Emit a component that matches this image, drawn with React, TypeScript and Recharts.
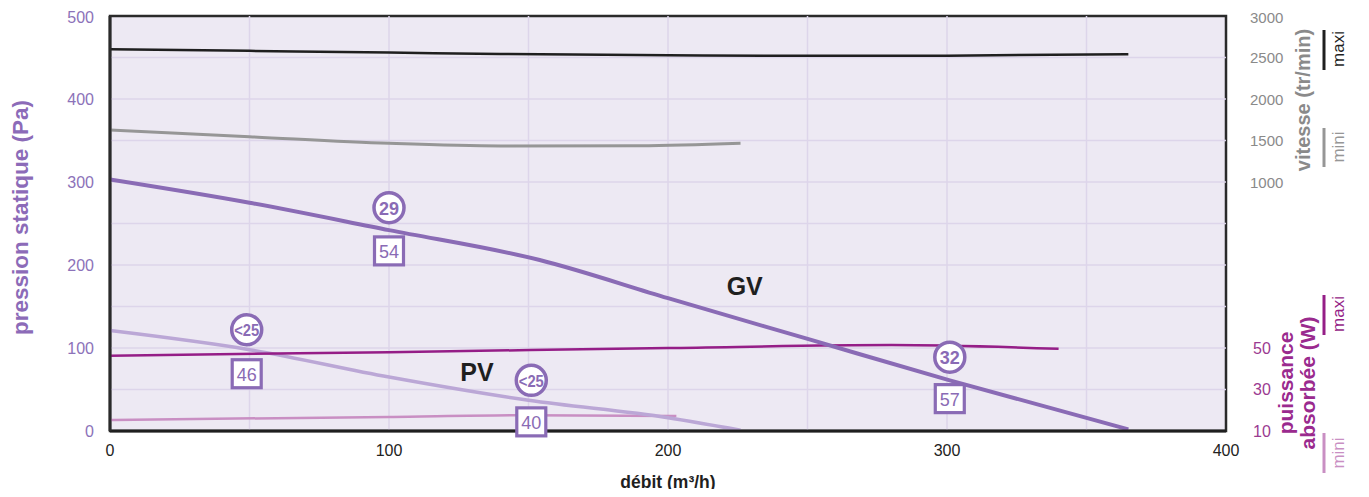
import React from 'react';
import { ComposedChart, Line, XAxis, YAxis, ReferenceLine, ReferenceArea, ReferenceDot } from 'recharts';

// Axis ticks
const flowTicks = [0, 100, 200, 300, 400];
const pressureTicks = [0, 100, 200, 300, 400, 500];
const speedTicks = [1000, 1500, 2000, 2500, 3000];
const powerTicks = [10, 30, 50];
const gridFlows = [50, 100, 150, 200, 250, 300, 350];
const gridPressures = [50, 100, 150, 200, 250, 300, 350, 400, 450];

// GV pressure curve (Pa)
const gvFlow = [0, 50, 100, 154, 200, 251, 301, 365];
const gvPressure = [303, 275, 242, 206, 160, 110, 61, 2];

// PV pressure curve (Pa)
const pvFlow = [0, 50, 100, 150, 200, 226];
const pvPressure = [121, 98, 65, 37, 16, 1];

// Speed maxi / mini (tr/min)
const speedMaxFlow = [0, 50, 100, 140, 200, 250, 300, 365];
const speedMax = [2600, 2580, 2560, 2542, 2528, 2520, 2522, 2540];
const speedMinFlow = [0, 50, 100, 140, 190, 226];
const speedMin = [1627, 1546, 1466, 1434, 1437, 1467];

// Power maxi / mini (W)
const powerMaxFlow = [0, 100, 200, 280, 340];
const powerMax = [46.3, 48, 50, 51.4, 49.6];
const powerMinFlow = [0, 100, 150, 203];
const powerMin = [15.3, 16.8, 17.6, 17.2];

// Annotations
const circleFlows = [100, 49, 151, 301];
const circlePressures = [269, 122, 61, 89];
const circleTexts = ['29', '<25', '<25', '32'];
const squareFlows = [100, 49, 151, 301];
const squarePressures = [217, 69, 11, 39];
const squareTexts = ['54', '46', '40', '57'];
const curveLabels = ['GV', 'PV'];
const curveLabelFlows = [227.5, 131.5];
const curveLabelPressures = [175, 71];

const FONT = '"Liberation Sans", Arial, Helvetica, sans-serif';
const PURPLE = '#8a6bb5';
const PV_COLOR = '#bba7d6';
const MAGENTA = '#951e87';
const PINK = '#c98fc3';
const GREY = '#969696';
const BLACK = '#1f1f1f';

const toData = (xs: number[], ys: number[]) => xs.map((x, i) => ({ flow: x, v: ys[i] }));

const gvData = toData(gvFlow, gvPressure);
const pvData = toData(pvFlow, pvPressure);
const speedMaxData = toData(speedMaxFlow, speedMax);
const speedMinData = toData(speedMinFlow, speedMin);
const powerMaxData = toData(powerMaxFlow, powerMax);
const powerMinData = toData(powerMinFlow, powerMin);

const CircleMark = (text: string) => (props: any) => {
  const { cx, cy } = props;
  const small = text.length > 2;
  return (
    <g>
      <circle cx={cx} cy={cy} r={15} fill="#ffffff" stroke={PURPLE} strokeWidth={3.5} />
      <text
        x={cx}
        y={cy + 1}
        textAnchor="middle"
        dominantBaseline="central"
        fill={PURPLE}
        fontFamily={FONT}
        fontWeight="bold"
        fontSize={small ? 17 : 18}
        {...(small ? { textLength: 25, lengthAdjust: 'spacingAndGlyphs' } : {})}
      >
        {text}
      </text>
    </g>
  );
};

const SquareMark = (text: string) => (props: any) => {
  const { cx, cy } = props;
  return (
    <g>
      <rect x={cx - 14.5} y={cy - 14} width={29} height={28} fill="#ffffff" stroke={PURPLE} strokeWidth={3.2} />
      <text x={cx} y={cy + 1} textAnchor="middle" dominantBaseline="central" fill={PURPLE} fontFamily={FONT} fontSize={18}>
        {text}
      </text>
    </g>
  );
};

const TextMark = (text: string) => (props: any) => {
  const { cx, cy } = props;
  return (
    <text x={cx} y={cy} textAnchor="middle" dominantBaseline="central" fill={BLACK} fontFamily={FONT} fontWeight="bold" fontSize={25}>
      {text}
    </text>
  );
};

const PowerTick = (props: any) => {
  const { x, y, payload } = props;
  return (
    <text x={x} y={y} dx={-39} dominantBaseline="central" textAnchor="start" fill="#9b3a91" fontFamily={FONT} fontSize={16}>
      {payload.value}
    </text>
  );
};

const SpeedTick = (props: any) => {
  const { x, y, payload } = props;
  return (
    <text x={x} y={y} dominantBaseline="central" textAnchor="start" fill="#8a8a8a" fontFamily={FONT} fontSize={15}>
      {payload.value}
    </text>
  );
};

const LeftTitle = (props: any) => {
  const vb = props.viewBox;
  const x = vb.x + 12;
  const y = vb.y + vb.height / 2 - 6;
  return (
    <text
      x={x}
      y={y}
      transform={`rotate(-90 ${x} ${y})`}
      textAnchor="middle"
      dominantBaseline="central"
      fill="#8c6bb8"
      fontFamily={FONT}
      fontWeight="bold"
      fontSize={22.5}
    >
      pression statique (Pa)
    </text>
  );
};

const BottomTitle = (props: any) => {
  const vb = props.viewBox;
  return (
    <text
      x={vb.x + vb.width / 2}
      y={vb.y + 51}
      textAnchor="middle"
      dominantBaseline="central"
      fill={BLACK}
      fontFamily={FONT}
      fontWeight="bold"
      fontSize={17.5}
    >
      débit (m³/h)
    </text>
  );
};

const RotText = ({ x, y, text, fill, size, bold }: any) => (
  <text
    x={x}
    y={y}
    transform={`rotate(-90 ${x} ${y})`}
    textAnchor="middle"
    dominantBaseline="central"
    fill={fill}
    fontFamily={FONT}
    fontWeight={bold ? 'bold' : 'normal'}
    fontSize={size}
  >
    {text}
  </text>
);

export default function App() {
  return (
    <div style={{ position: 'relative', width: 1353, height: 481 }}>
      <ComposedChart width={1353} height={489} margin={{ top: 8, right: 0, bottom: 0, left: 0 }}>
        <XAxis
          dataKey="flow"
          type="number"
          domain={[0, 400]}
          ticks={flowTicks}
          allowDataOverflow
          height={66}
          tickLine={false}
          tickMargin={8}
          axisLine={{ stroke: BLACK, strokeWidth: 3 }}
          tick={{ fill: '#222', fontSize: 16, fontFamily: FONT }}
          label={<BottomTitle />}
        />
        <YAxis
          yAxisId="p"
          type="number"
          domain={[0, 500]}
          ticks={pressureTicks}
          allowDataOverflow
          width={102}
          tickLine={false}
          tickMargin={10}
          axisLine={{ stroke: '#2a2a2a', strokeWidth: 3 }}
          tick={{ fill: '#8c72b9', fontSize: 16, fontFamily: FONT }}
          label={<LeftTitle />}
        />
        <YAxis
          yAxisId="s"
          orientation="right"
          type="number"
          domain={[-2000, 3000]}
          ticks={speedTicks}
          allowDataOverflow
          width={60}
          tickLine={false}
          axisLine={false}
          tickMargin={18}
          tick={<SpeedTick />}
        />
        <YAxis
          yAxisId="w"
          orientation="right"
          type="number"
          domain={[10, 210]}
          ticks={powerTicks}
          allowDataOverflow
          width={75}
          tickLine={false}
          axisLine={false}
          tickMargin={0}
          tick={<PowerTick />}
        />

        <ReferenceArea yAxisId="p" x1={0} x2={400} y1={0} y2={500} fill="#ede9f3" fillOpacity={1} stroke="none" />
        {gridFlows.map((f) => (
          <ReferenceLine key={'gx' + f} yAxisId="p" x={f} stroke="#ddd5ea" strokeWidth={1.5} />
        ))}
        {gridPressures.map((p) => (
          <ReferenceLine key={'gy' + p} yAxisId="p" y={p} stroke="#ddd5ea" strokeWidth={1.5} />
        ))}
        <ReferenceArea yAxisId="p" x1={0} x2={400} y1={0} y2={500} fill="none" stroke="#2a2a2a" strokeWidth={2.5} />

        <Line yAxisId="s" data={speedMaxData} dataKey="v" type="monotone" stroke={BLACK} strokeWidth={2.5} dot={false} isAnimationActive={false} />
        <Line yAxisId="s" data={speedMinData} dataKey="v" type="monotone" stroke={GREY} strokeWidth={3} dot={false} isAnimationActive={false} />
        <Line yAxisId="w" data={powerMinData} dataKey="v" type="monotone" stroke={PINK} strokeWidth={2.5} dot={false} isAnimationActive={false} />
        <Line yAxisId="p" data={pvData} dataKey="v" type="monotone" stroke={PV_COLOR} strokeWidth={3.5} dot={false} isAnimationActive={false} />
        <Line yAxisId="w" data={powerMaxData} dataKey="v" type="monotone" stroke={MAGENTA} strokeWidth={2.5} dot={false} isAnimationActive={false} />
        <Line yAxisId="p" data={gvData} dataKey="v" type="monotone" stroke={PURPLE} strokeWidth={4} dot={false} isAnimationActive={false} />

        {circleFlows.map((f, i) => (
          <ReferenceDot key={'c' + i} yAxisId="p" x={f} y={circlePressures[i]} shape={CircleMark(circleTexts[i])} />
        ))}
        {squareFlows.map((f, i) => (
          <ReferenceDot key={'s' + i} yAxisId="p" x={f} y={squarePressures[i]} shape={SquareMark(squareTexts[i])} />
        ))}
        {curveLabels.map((t, i) => (
          <ReferenceDot key={'l' + i} yAxisId="p" x={curveLabelFlows[i]} y={curveLabelPressures[i]} shape={TextMark(t)} />
        ))}
      </ComposedChart>

      <svg width={1353} height={481} style={{ position: 'absolute', left: 0, top: 0, pointerEvents: 'none' }}>
        <RotText x={1295} y={92} text="vitesse (tr/min)" fill="#8a8a8a" size={20} bold />
        <line x1={1316} y1={22} x2={1316} y2={62} stroke={BLACK} strokeWidth={3} />
        <RotText x={1330} y={41} text="maxi" fill={BLACK} size={17} />
        <line x1={1316} y1={120} x2={1316} y2={159} stroke={GREY} strokeWidth={3} />
        <RotText x={1330} y={139} text="mini" fill={GREY} size={17} />

        <RotText x={1277} y={375} text="puissance" fill="#9a2a8e" size={21} bold />
        <RotText x={1299} y={375} text="absorbée (W)" fill="#9a2a8e" size={21} bold />
        <line x1={1316} y1={287} x2={1316} y2={327} stroke={MAGENTA} strokeWidth={3} />
        <RotText x={1330} y={306} text="maxi" fill={MAGENTA} size={17} />
        <line x1={1316} y1={425} x2={1316} y2={465} stroke={PINK} strokeWidth={3} />
        <RotText x={1330} y={445} text="mini" fill={PINK} size={17} />
      </svg>
    </div>
  );
}
